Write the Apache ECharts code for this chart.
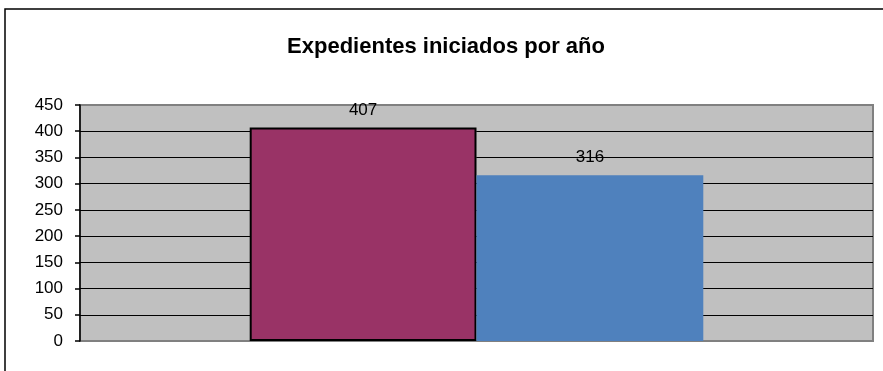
<!DOCTYPE html>
<html>
<head>
<meta charset="utf-8">
<script src="https://cdn.jsdelivr.net/npm/echarts@6/dist/echarts.min.js"></script>
<style>
  html, body { margin: 0; padding: 0; background: #fff; }
  #chart { width: 883px; height: 371px; }
</style>
</head>
<body>
<div id="chart"></div>
<script>
// data
var categories = [''];
var seriesNames = ['Serie 1', 'Serie 2'];
var seriesValues = [[407], [316]];
var seriesColors = ['#993366', '#4F81BD'];
var yTicks = [0, 50, 100, 150, 200, 250, 300, 350, 400, 450];

var chart = echarts.init(document.getElementById('chart'));

// first and last split line fall on the grey frame
var splitColors = yTicks.map(function (t, i) {
  return (i === 0 || i === yTicks.length - 1) ? '#808080' : '#000000';
});

var series = seriesNames.map(function (name, i) {
  return {
    name: name,
    type: 'bar',
    data: seriesValues[i],
    barGap: '0%',
    barCategoryGap: '42.8%',
    itemStyle: {
      color: seriesColors[i],
      borderColor: i === 0 ? '#000' : 'transparent',
      borderWidth: i === 0 ? 2 : 0
    },
    label: {
      show: true,
      position: 'top',
      distance: 9,
      color: '#000',
      fontFamily: 'Liberation Sans, Arial, sans-serif',
      fontSize: 17
    },
    emphasis: { disabled: true }
  };
});

chart.setOption({
  animation: false,
  title: {
    text: 'Expedientes iniciados por año',
    left: 441,
    textAlign: 'center',
    top: 31,
    textStyle: {
      fontFamily: 'Liberation Sans, Arial, sans-serif',
      fontWeight: 'bold',
      fontSize: 22,
      color: '#000'
    }
  },
  graphic: [{
    type: 'rect',
    shape: { x: 5, y: 9, width: 900, height: 400 },
    style: { fill: 'none', stroke: '#000', lineWidth: 1.5 },
    silent: true
  }],
  grid: {
    left: 80,
    right: 10,
    top: 105,
    bottom: 30,
    show: true,
    backgroundColor: '#C0C0C0',
    borderColor: '#808080',
    borderWidth: 2
  },
  xAxis: {
    type: 'category',
    data: categories,
    axisLine: { show: false },
    axisTick: { show: false },
    axisLabel: { show: false }
  },
  yAxis: {
    type: 'value',
    min: 0,
    max: 450,
    interval: 50,
    axisLine: { show: true, lineStyle: { color: '#000', width: 1.5 } },
    axisTick: { show: true, length: 5, lineStyle: { color: '#000', width: 1.5 } },
    axisLabel: {
      margin: 17,
      color: '#000',
      fontFamily: 'Liberation Sans, Arial, sans-serif',
      fontSize: 17
    },
    splitLine: { show: true, lineStyle: { color: splitColors, width: 1 } }
  },
  series: series
});
</script>
</body>
</html>
